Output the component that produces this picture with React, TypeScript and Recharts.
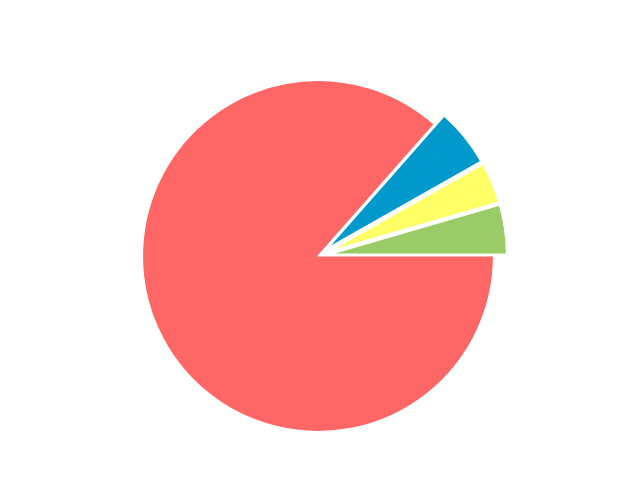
import React from "react";
import { PieChart, Pie, Cell, Sector } from "recharts";

const categories = ["A", "B", "C", "D"];
const values = [4.5, 3.7, 5.3, 86.5];
const colors = ["#99CC66", "#FFFF66", "#0099CC", "#FF6666"];
const explodedCategories = ["A", "B", "C"];

const data = categories.map((name, i) => ({ name, value: values[i] }));

const RADIAN = Math.PI / 180;
const OFFSET = 13;

const ExplodedSector = (props: any) => {
  const { cx, cy, midAngle, payload } = props;
  const name = payload?.name ?? props.name;
  const exploded = explodedCategories.includes(name);
  const dx = exploded ? Math.cos(-midAngle * RADIAN) * OFFSET : 0;
  const dy = exploded ? Math.sin(-midAngle * RADIAN) * OFFSET : 0;
  return <Sector {...props} cx={cx + dx} cy={cy + dy} />;
};

export default function App() {
  return (
    <div style={{ position: "absolute", left: 0, top: 0, width: 640, height: 495, background: "#fff" }}>
      <PieChart width={640} height={495} margin={{ top: 0, right: 0, bottom: 0, left: 0 }}>
        <Pie
          data={data}
          dataKey="value"
          nameKey="name"
          cx={318}
          cy={256}
          outerRadius={175.5}
          startAngle={0}
          endAngle={360}
          stroke="#ffffff"
          strokeWidth={1.2}
          isAnimationActive={false}
          shape={ExplodedSector}
        >
          {data.map((d, i) => (
            <Cell key={d.name} fill={colors[i]} />
          ))}
        </Pie>
      </PieChart>
    </div>
  );
}
